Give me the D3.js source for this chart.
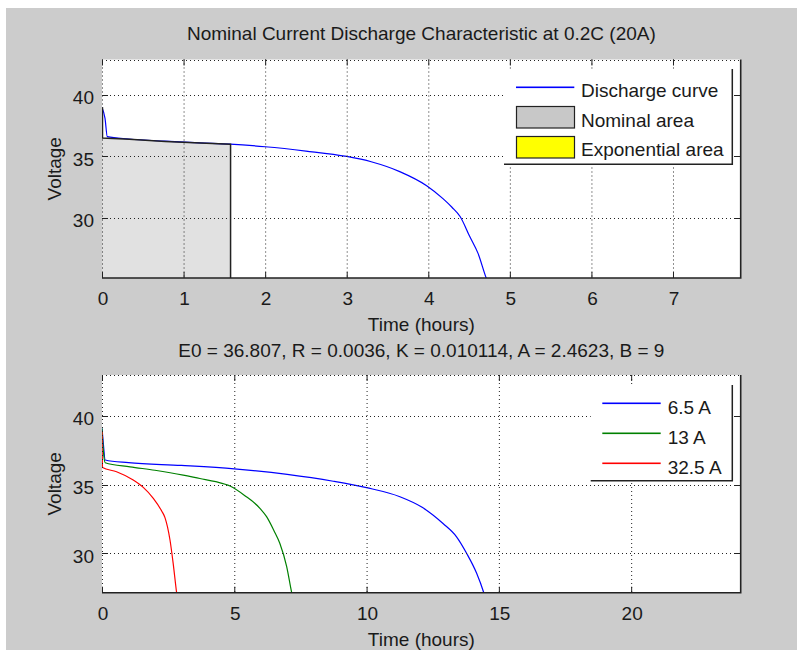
<!DOCTYPE html>
<meta charset="utf-8">
<style>
  body { margin: 0; background: white; }
  text { font-family: "Liberation Sans", Arial, sans-serif; font-size: 19px; fill: #1a1a1a; }
</style>
<body>
<div id="chart"></div>
<script src="https://d3js.org/d3.v7.min.js"></script>
<script>

// top panel: 20 A discharge curve
var topTime = [0, 0.037, 0.065, 0.33, 0.77, 1.2, 1.57, 2.0, 2.5, 3.0, 3.3, 3.65, 3.98, 4.18, 4.29, 4.39, 4.51, 4.61, 4.71, 4.74];
var topVolt = [38.97, 38.08, 36.59, 36.4, 36.22, 36.08, 35.98, 35.77, 35.42, 34.98, 34.55, 33.75, 32.6, 31.55, 30.85, 30.1, 28.45, 27.1, 25.1, 24.6];

// nominal area outline
var nomTime = [0, 0, 0.33, 0.77, 1.2, 1.57];
var nomVolt = [38.97, 36.48, 36.37, 36.2, 36.07, 35.97];

// bottom panel: three currents
var curLabels = ["6.5 A", "13 A", "32.5 A"];
var curColors = ["#0000ff", "#008000", "#ff0000"];
var blueTime = [0, 0.05, 0.12, 1, 3, 5, 7, 8.74, 10, 11.26, 12.1, 12.9, 13.4, 13.78, 14.16, 14.43, 14.5];
var blueVolt = [39.1, 38.0, 36.8, 36.6, 36.4, 36.15, 35.75, 35.25, 34.78, 34.12, 33.35, 32.15, 31.2, 30.0, 28.54, 27.13, 26.7];
var greenTime = [0, 0.05, 0.12, 1.06, 2.0, 3.07, 3.7, 4.3, 4.84, 5.4, 5.97, 6.22, 6.5, 6.72, 6.98, 7.17, 7.22];
var greenVolt = [39.1, 37.5, 36.6, 36.3, 36.05, 35.7, 35.45, 35.22, 34.9, 34.2, 33.28, 32.67, 31.65, 30.73, 29.03, 27.13, 26.7];
var redTime = [0, 0.02, 0.55, 1.18, 1.56, 1.94, 2.25, 2.38, 2.57, 2.69, 2.82, 2.85];
var redVolt = [38.9, 36.25, 35.94, 35.34, 34.8, 34.0, 33.1, 32.6, 30.97, 29.27, 27.13, 26.7];

var topXTicks = [0, 1, 2, 3, 4, 5, 6, 7];
var botXTicks = [0, 5, 10, 15, 20];
var yTicks = [30, 35, 40];

var topLegend = ["Discharge curve", "Nominal area", "Exponential area"];

var W = 797, H = 650;

var svg = d3.select("#chart")
  .append("svg")
    .attr("width", W)
    .attr("height", H);

svg.append("rect")
  .attr("x", 6).attr("y", 8)
  .attr("width", W - 6).attr("height", H - 8)
  .attr("fill", "#cccccc");

function pairs(t, v) {
  return t.map(function(d, i) { return [d, v[i]]; });
}

function panel(o) {
  var x = d3.scaleLinear().domain(o.xdom).range([o.left, o.right]);
  var y = d3.scaleLinear().domain(o.ydom).range([o.bottom, o.top]);
  var g = svg.append("g");

  g.append("rect")
    .attr("x", o.left).attr("y", o.top)
    .attr("width", o.right - o.left).attr("height", o.bottom - o.top)
    .attr("fill", "white");

  var clipId = "clip" + o.id;
  svg.append("clipPath").attr("id", clipId)
    .append("rect")
    .attr("x", o.left).attr("y", o.top)
    .attr("width", o.right - o.left).attr("height", o.bottom - o.top);

  var plot = g.append("g").attr("clip-path", "url(#" + clipId + ")");
  if (o.before) o.before(plot, x, y);

  // dotted grid + dotted left/top edges
  var dot = function(sel) {
    sel.attr("stroke", "#222").attr("stroke-width", 1).attr("stroke-dasharray", "1,3");
  };
  g.selectAll(".gx").data(o.xticks).enter().append("line")
    .attr("x1", function(d) { return x(d) + 0.5; }).attr("x2", function(d) { return x(d) + 0.5; })
    .attr("y1", o.top).attr("y2", o.bottom).call(dot);
  g.selectAll(".gy").data(yTicks.concat([o.ydom[1]])).enter().append("line")
    .attr("x1", o.left).attr("x2", o.right)
    .attr("y1", function(d) { return Math.round(y(d)) + 0.5; }).attr("y2", function(d) { return Math.round(y(d)) + 0.5; })
    .call(dot);

  var line = d3.line().curve(d3.curveMonotoneX)
    .x(function(d) { return x(d[0]); }).y(function(d) { return y(d[1]); });
  o.series.forEach(function(s) {
    plot.append("path").datum(s.data)
      .attr("d", line)
      .style("fill", "none")
      .style("stroke", s.color)
      .style("stroke-width", 1.2);
  });
  if (o.after) o.after(plot, x, y);

  // solid right/bottom edges and inward ticks
  g.append("path")
    .attr("d", "M" + o.left + "," + o.bottom + "H" + o.right + "V" + o.top)
    .attr("fill", "none").attr("stroke", "#222").attr("stroke-width", 1.6);
  var tl = 6;
  o.xticks.forEach(function(t) {
    var px = x(t) + 0.5;
    g.append("line").attr("x1", px).attr("x2", px).attr("y1", o.bottom).attr("y2", o.bottom - tl).attr("stroke", "#222");
    g.append("line").attr("x1", px).attr("x2", px).attr("y1", o.top).attr("y2", o.top + tl).attr("stroke", "#222");
    g.append("text").attr("x", x(t) + 1).attr("y", o.bottom + 27)
      .attr("text-anchor", "middle").text(t);
  });
  yTicks.forEach(function(t) {
    var py = Math.round(y(t)) + 0.5;
    g.append("line").attr("x1", o.left).attr("x2", o.left + tl).attr("y1", py).attr("y2", py).attr("stroke", "#222");
    g.append("line").attr("x1", o.right).attr("x2", o.right - tl).attr("y1", py).attr("y2", py).attr("stroke", "#222");
    g.append("text").attr("x", o.left - 8).attr("y", y(t) + 9.3)
      .attr("text-anchor", "end").text(t);
  });

  var cx = (o.left + o.right) / 2;
  g.append("text").attr("x", cx).attr("y", o.bottom + 53)
    .attr("text-anchor", "middle").text("Time (hours)");
  g.append("text").attr("x", cx).attr("y", o.top - o.titleGap)
    .attr("text-anchor", "middle").text(o.title);
  g.append("text")
    .attr("transform", "translate(60.5," + (o.top + o.bottom) / 2 + ") rotate(-90)")
    .attr("text-anchor", "middle").text("Voltage");

  return { g: g, x: x, y: y };
}

var upper = panel({
  id: 1, left: 102, right: 740.7, top: 59.5, bottom: 278,
  xdom: [0, 7.83], ydom: [25.1, 42.86], xticks: topXTicks,
  title: "Nominal Current Discharge Characteristic at 0.2C (20A)", titleGap: 20,
  before: function(plot, x, y) {
    var area = pairs(nomTime, nomVolt);
    var last = area[area.length - 1];
    var poly = area.concat([[last[0], y.domain()[0]], [0, y.domain()[0]]]);
    plot.append("path").datum(poly)
      .attr("d", d3.line().x(function(d) { return x(d[0]); }).y(function(d) { return y(d[1]); }))
      .attr("fill", "#e1e1e1");
  },
  series: [{ data: pairs(topTime, topVolt), color: "#0000ff" }],
  after: function(plot, x, y) {
    var outline = pairs(nomTime, nomVolt);
    var last = outline[outline.length - 1];
    outline.push([last[0], y.domain()[0]]);
    plot.append("path").datum(outline)
      .attr("d", d3.line().x(function(d) { return x(d[0]) + 0.5; }).y(function(d) { return y(d[1]); }))
      .attr("fill", "none").attr("stroke", "#222").attr("stroke-width", 1.5);
  }
});

var lower = panel({
  id: 2, left: 102, right: 740.7, top: 375, bottom: 592.7,
  xdom: [0, 24.14], ydom: [27.13, 42.99], xticks: botXTicks,
  title: "E0 = 36.807, R = 0.0036, K = 0.010114, A = 2.4623, B = 9", titleGap: 18.5,
  series: [
    { data: pairs(blueTime, blueVolt), color: curColors[0] },
    { data: pairs(greenTime, greenVolt), color: curColors[1] },
    { data: pairs(redTime, redVolt), color: curColors[2] }
  ]
});

// legends
function legendBox(x0, y0, x1, y1) {
  var lg = svg.append("g");
  lg.append("rect").attr("x", x0).attr("y", y0).attr("width", x1 - x0).attr("height", y1 - y0).attr("fill", "white");
  lg.append("path").attr("d", "M" + x0 + "," + y1 + "H" + x1 + "V" + y0)
    .attr("fill", "none").attr("stroke", "#222").attr("stroke-width", 1.5);
  return lg;
}

var lg1 = legendBox(504, 69, 732.3, 164.3);
lg1.append("rect").attr("x", 516).attr("y", 86.5).attr("width", 58.3).attr("height", 1.6)
  .style("fill", "#0000ff");
lg1.append("rect").attr("x", 516.5).attr("y", 106.5).attr("width", 58).attr("height", 21.5)
  .attr("fill", "#c8c8c8").attr("stroke", "#222").attr("stroke-width", 1.2);
lg1.append("rect").attr("x", 516.5).attr("y", 136.5).attr("width", 58).attr("height", 21.5)
  .attr("fill", "#ffff00").attr("stroke", "#222").attr("stroke-width", 1.2);
lg1.selectAll("text").data(topLegend).enter().append("text")
  .attr("x", 581).attr("y", function(d, i) { return 96.7 + i * 29.8; })
  .text(function(d) { return d; });

var lg2 = legendBox(590.7, 385, 732.3, 480.7);
curLabels.forEach(function(d, i) {
  lg2.append("rect").attr("x", 602.3).attr("y", 402.5 + i * 30)
    .attr("width", 58.4).attr("height", 1.6)
    .style("fill", curColors[i]);
  lg2.append("text").attr("x", 667.7).attr("y", 414 + i * 30).text(d);
});

</script>
</body>
